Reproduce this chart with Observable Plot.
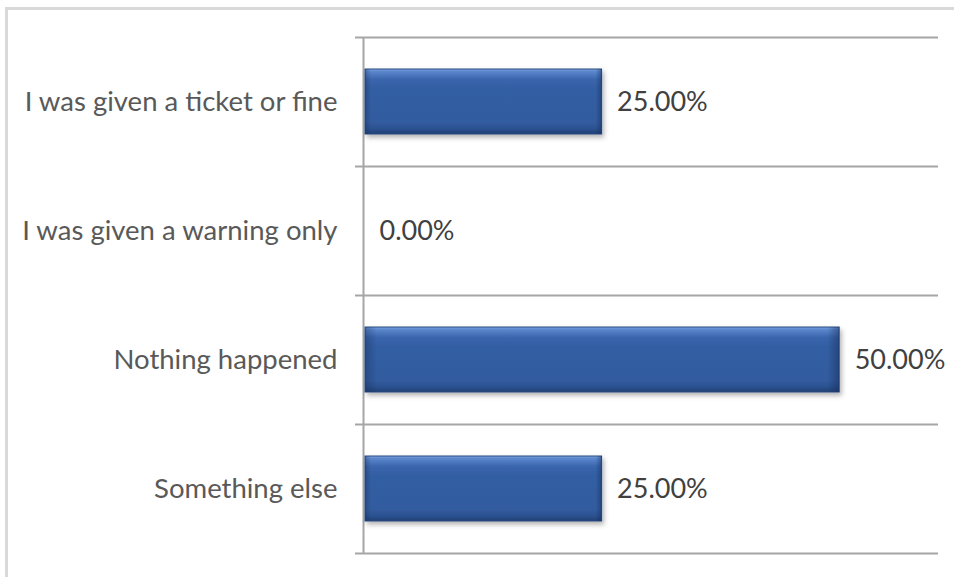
<!DOCTYPE html>
<html>
<head>
<meta charset="utf-8">
<script src="https://cdn.jsdelivr.net/npm/d3@7"></script>
<script src="https://cdn.jsdelivr.net/npm/@observablehq/plot@0.6"></script>
<style>
  html, body { margin: 0; padding: 0; background: #fff; overflow: hidden; }
  #wrap { position: relative; width: 954px; height: 577px; }
  #border { position: absolute; left: 5px; top: 7px; width: 1000px; height: 700px;
            border-left: 3px solid #d9d9d9; border-top: 3px solid #d9d9d9; }
  #chart { position: absolute; left: 0; top: 0; }
</style>
</head>
<body>
<div id="wrap"><div id="border"></div><div id="chart"></div></div>
<script>
const categories = ["I was given a ticket or fine", "I was given a warning only", "Nothing happened", "Something else"];
const values = [0.25, 0.00, 0.50, 0.25];
const labels = ["25.00%", "0.00%", "50.00%", "25.00%"];

const data = categories.map((c, i) => ({category: c, value: values[i], label: labels[i]}));

const W = 954, H = 577;
const mTop = 37, mBottom = 24, mLeft = 364, mRight = 16;
const fontFamily = "Lato, 'Open Sans', sans-serif";

const defs = () => {
  const d = d3.create("svg:defs");
  const g = d.append("linearGradient").attr("id", "barGrad").attr("x1", 0).attr("y1", 0).attr("x2", 0).attr("y2", 1);
  [[0, "#7da3e0"], [0.04, "#5b86cc"], [0.16, "#3a66ad"], [0.3, "#335ea3"], [0.82, "#325c9f"], [0.92, "#2b5190"], [1, "#203f73"]]
    .forEach(([o, c]) => g.append("stop").attr("offset", o).attr("stop-color", c));
  const h = d.append("linearGradient").attr("id", "edgeGrad").attr("x1", 0).attr("y1", 0).attr("x2", 1).attr("y2", 0);
  [[0, "rgba(20,40,80,0.35)"], [0.025, "rgba(20,40,80,0)"], [0.975, "rgba(20,40,80,0)"], [1, "rgba(20,40,80,0.45)"]]
    .forEach(([o, c]) => h.append("stop").attr("offset", o).attr("stop-color", c));
  const f = d.append("filter").attr("id", "shadow").attr("x", "-10%").attr("y", "-20%").attr("width", "130%").attr("height", "160%");
  f.append("feDropShadow").attr("dx", 2).attr("dy", 3).attr("stdDeviation", 2.5).attr("flood-color", "#000").attr("flood-opacity", 0.3);
  return d.node();
};

function build(step) {
  const bounds = step == null ? [] : data;
  return Plot.plot({
    width: W, height: H,
    marginTop: mTop, marginBottom: mBottom, marginLeft: mLeft, marginRight: mRight,
    style: {fontFamily, fontSize: "27.5px", color: "#595959", background: "transparent"},
    x: {domain: [0, 0.604], axis: null},
    y: {domain: categories, paddingInner: 0.5, paddingOuter: 0.25, label: null, tickSize: 0, tickPadding: 27},
    marks: [
      defs,
      Plot.ruleY(bounds, {y: "category", dy: step == null ? 0 : -step / 2, stroke: "#a6a6a6", strokeWidth: 2, insetLeft: -9}),
      Plot.ruleY(bounds.slice(-1), {y: "category", dy: step == null ? 0 : step / 2, stroke: "#a6a6a6", strokeWidth: 2, insetLeft: -9}),
      Plot.ruleX([0], {stroke: "#a6a6a6", strokeWidth: 2, dx: -1}),
      Plot.barX(data.filter(d => d.value > 0), {x: "value", y: "category", fill: "url(#barGrad)", stroke: "#2a4a80", strokeWidth: 1, insetLeft: 1}),
      Plot.barX(data.filter(d => d.value > 0), {x: "value", y: "category", fill: "url(#edgeGrad)", insetLeft: 1}),
      Plot.text(data, {x: "value", y: "category", text: "label", textAnchor: "start", dx: 15, fill: "#404040", fontSize: 27})
    ]
  });
}

const first = build(null);
const step = first.scale("y").step;
const chart = build(step);
const barGroups = chart.querySelectorAll("g[aria-label='bar']");
if (barGroups.length) barGroups[0].setAttribute("filter", "url(#shadow)");
document.getElementById("chart").appendChild(chart);
</script>
</body>
</html>
